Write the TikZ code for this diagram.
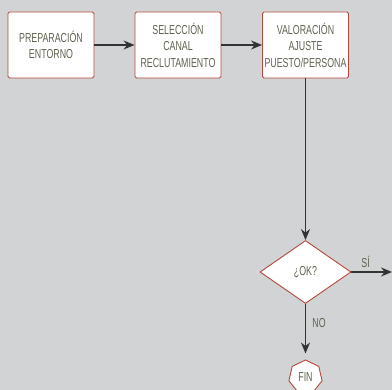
\documentclass[tikz,border=0pt]{standalone}
\usepackage{fontspec}
\setmainfont{Liberation Sans}[FakeStretch=0.68]
\usetikzlibrary{shapes.geometric,arrows.meta}
\definecolor{fondo}{HTML}{D1D3D4}
\definecolor{borde}{HTML}{B5483C}
\definecolor{texto}{HTML}{5F6250}
\definecolor{flecha}{HTML}{333333}
\tikzset{
  caja/.style={draw=borde,fill=white,line width=0.9pt,rounded corners=1.5pt,
    minimum width=86pt,minimum height=66pt,inner sep=0pt,align=center,
    text=texto,font=\fontsize{13}{16.5}\selectfont},
  rombo/.style={diamond,draw=borde,fill=white,line width=0.9pt,aspect=1.45,
    minimum width=91pt,minimum height=63pt,inner sep=0pt,text=texto,
    font=\fontsize{13}{16.5}\selectfont},
  fin/.style={regular polygon,regular polygon sides=7,draw=borde,fill=white,
    line width=0.9pt,minimum size=34pt,inner sep=0pt,text=texto,
    font=\fontsize{13}{16.5}\selectfont},
  etiqueta/.style={text=texto,font=\fontsize{13}{16.5}\selectfont},
  flujo/.style={-{Stealth[length=11pt,width=9pt]},draw=flecha,line width=1.3pt}
}
\begin{document}
\begin{tikzpicture}[x=1pt,y=1pt]
  \fill[fondo] (0,0) rectangle (392,-390);
  \useasboundingbox (0,0) rectangle (392,-390);
  \draw
    (51,-45) node[caja] (prep){PREPARACIÓN\\ENTORNO}
    (178,-45) node[caja] (sel){SELECCIÓN\\CANAL\\RECLUTAMIENTO}
    (305.5,-45) node[caja] (val){VALORACIÓN\\AJUSTE\\PUESTO/PERSONA}
    (305.5,-272) node[rombo] (ok){¿OK?}
    (305.5,-377) node[fin] (fin){FIN};
  \coordinate (si) at (392,-272);
  \begin{scope}[flujo]
    \draw (prep) to (sel);
    \draw (sel) to (val);
    \draw (val) to (ok);
    \draw (ok) to node[etiqueta,above,pos=0.35] {SÍ} (si);
    \draw[shorten >=6pt] (ok) to node[etiqueta,right,xshift=3pt,pos=0.35] {NO} (fin);
  \end{scope}
\end{tikzpicture}
\end{document}
